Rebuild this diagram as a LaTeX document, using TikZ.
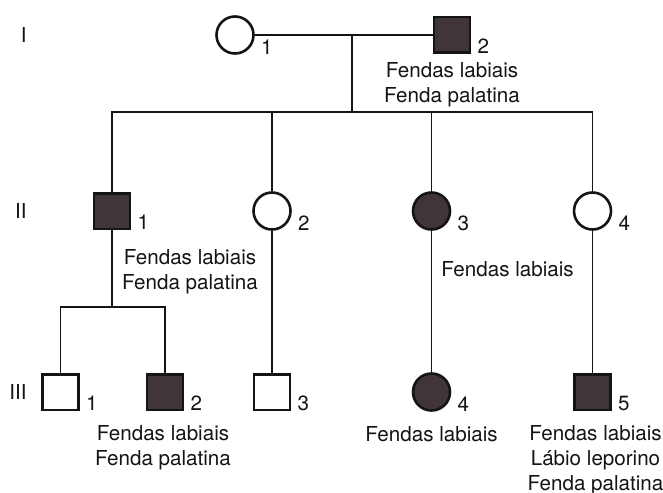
\documentclass[tikz,border=0pt]{standalone}
\usepackage{fontspec}
\setmainfont{TeX Gyre Heros}
\usepackage{tikz}
\usetikzlibrary{positioning, calc}
\usepackage{xcolor}
\definecolor{pedfill}{RGB}{64,54,56}
\definecolor{pedink}{RGB}{20,20,20}

\begin{document}
\begin{tikzpicture}[
    x=0.5pt, y=-0.5pt,
    every node/.style={font=\fontsize{10.3}{12.4}\selectfont, text=pedink},
    malebox/.style={rectangle, draw=pedink, line width=1.3pt, fill=white,
        minimum width=18pt, minimum height=17.8pt, inner sep=0pt},
    femalebox/.style={circle, draw=pedink, line width=1.3pt, fill=white,
        minimum size=18.5pt, inner sep=0pt},
    affected/.style={fill=pedfill},
    idnum/.style={anchor=south west, inner sep=0pt, xshift=3pt},
    note/.style={align=center, inner sep=0pt},
    genlabel/.style={anchor=east, inner sep=0pt},
    pedline/.style={line width=0.65pt, pedink},
]
\useasboundingbox (0,0) rectangle (663,492);

% === GENERATION LABELS ===
\node[genlabel] (genI) at (27,35) {I};
\node[genlabel] (genII) at (27,211) {II};
\node[genlabel] (genIII) at (27,392) {III};

% === GENERATION I ===
\node[femalebox] (i1) at (235,35) {};
\node[malebox, affected] (i2) at (452,35) {};

% === GENERATION II ===
\node[malebox, affected] (ii1) at (112,211) {};
\node[femalebox] (ii2) at (272,211) {};
\node[femalebox, affected] (ii3) at (431.5,211) {};
\node[femalebox] (ii4) at (592.5,211) {};

% === GENERATION III ===
\node[malebox] (iii1) at (60.5,392) {};
\node[malebox, affected] (iii2) at (165,392) {};
\node[malebox] (iii3) at (272,392) {};
\node[femalebox, affected] (iii4) at (431.5,392) {};
\node[malebox, affected] (iii5) at (592.5,392) {};

% Numbers
\node[idnum] at (i1.east |- i1.south) {1};
\node[idnum] at (i2.south east) {2};
\node[idnum] at (ii1.south east) {1};
\node[idnum] at (ii2.east |- ii2.south) {2};
\node[idnum] at (ii3.east |- ii3.south) {3};
\node[idnum] at (ii4.east |- ii4.south) {4};
\node[idnum] at (iii1.south east) {1};
\node[idnum] at (iii2.south east) {2};
\node[idnum] at (iii3.south east) {3};
\node[idnum] at (iii4.east |- iii4.south) {4};
\node[idnum] at (iii5.south east) {5};

% === PHENOTYPES ===
\node[note, below=4pt of i2] (i2note) {Fendas labiais\\Fenda palatina};
\node[note, below=9.5pt of ii1, xshift=39pt] (ii1note) {Fendas labiais\\Fenda palatina};
\node[note, below=15pt of ii3, xshift=38pt] (ii3note) {Fendas labiais};
\node[note, below=7pt of iii2, xshift=-1pt] (iii2note) {Fendas labiais\\Fenda palatina};
\node[note, below=7pt of iii4] (iii4note) {Fendas labiais};
\node[note, below=7pt of iii5, xshift=1.5pt] (iii5note) {Fendas labiais\\L\'abio leporino\\Fenda palatina};

% === LINES ===
\coordinate (mate1) at (352,35);
\coordinate (sib1) at (352,112);
\coordinate (sib2) at (112,307);

% Mating and sibship I
\draw[pedline] (i1) -- (i2);
\draw[pedline] (mate1) -- (sib1);
\draw[pedline] (ii1) |- (sib1) -| (ii4);
\draw[pedline] (ii2) -- (ii2 |- sib1);
\draw[pedline] (ii3) -- (ii3 |- sib1);

% Descent to generation III
\draw[pedline] (ii1) -- (sib2);
\draw[pedline] (iii1) |- (sib2) -| (iii2);
\draw[pedline] (ii2) -- (iii3);
\draw[pedline] (ii3) -- (iii4);
\draw[pedline] (ii4) -- (iii5);

\end{tikzpicture}
\end{document}
